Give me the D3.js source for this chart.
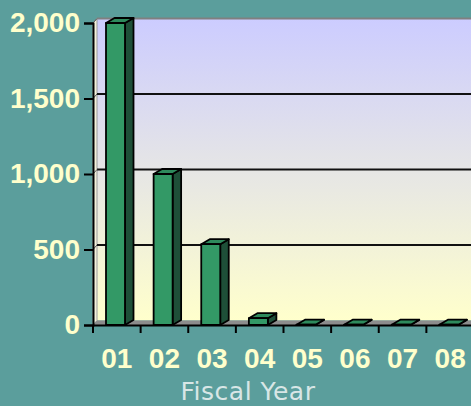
<!DOCTYPE html>
<html>
<head>
<meta charset="utf-8">
<script src="https://cdn.jsdelivr.net/npm/d3@7"></script>
<style>
  body { margin: 0; background: #5b9e9c; }
  svg { display: block; }
</style>
</head>
<body>
<div id="chart"></div>
<script>
// data
var years = ["01", "02", "03", "04", "05", "06", "07", "08"];
var values = [2000, 1000, 535, 45, 2, 2, 2, 2];
var yTicks = [0, 500, 1000, 1500, 2000];

var W = 471, H = 406;
var plotLeft = 93, plotRight = 474, plotBottom = 325, plotTop = 23;
var wx = 4, wy = -4.5;   // wall depth
var bx = 8.5, by = -5;   // bar depth

var svg = d3.select("#chart").append("svg")
    .attr("width", W)
    .attr("height", H);

var x = d3.scaleBand()
    .domain(years)
    .range([plotLeft, plotRight]);

var y = d3.scaleLinear()
    .domain([0, 2000])
    .range([plotBottom, plotTop]);

// back wall gradient
var grad = svg.append("defs").append("linearGradient")
    .attr("id", "wall")
    .attr("x1", 0).attr("y1", 0).attr("x2", 0).attr("y2", 1);
grad.append("stop").attr("offset", "0%").attr("stop-color", "#ccccff");
grad.append("stop").attr("offset", "100%").attr("stop-color", "#ffffcc");

// back wall
svg.append("rect")
    .attr("x", plotLeft + wx)
    .attr("y", y(2000) + wy)
    .attr("width", plotRight - plotLeft - wx)
    .attr("height", y(0) - y(2000))
    .attr("fill", "url(#wall)");

// top edge of back wall
svg.append("line")
    .attr("x1", plotLeft + wx).attr("x2", plotRight)
    .attr("y1", y(2000) + wy).attr("y2", y(2000) + wy)
    .attr("stroke", "#808080").attr("stroke-width", 2);

// left wall
svg.append("path")
    .attr("d", "M" + plotLeft + "," + y(2000) + "L" + (plotLeft + wx) + "," + (y(2000) + wy) +
               "L" + (plotLeft + wx) + "," + (y(0) + wy) + "L" + plotLeft + "," + y(0) + "Z")
    .attr("fill", "#f4f2dc")
    .attr("stroke", "#9a9a9a")
    .attr("stroke-width", 1);

// floor
svg.append("path")
    .attr("d", "M" + plotLeft + "," + y(0) + "L" + (plotLeft + wx) + "," + (y(0) + wy) +
               "L" + plotRight + "," + (y(0) + wy) + "L" + plotRight + "," + y(0) + "Z")
    .attr("fill", "#8c8c8c");

// gridlines on back wall
svg.append("g").selectAll("line")
    .data(yTicks.filter(function(d) { return d > 0 && d < 2000; }))
    .enter().append("line")
    .attr("x1", plotLeft + wx).attr("x2", plotRight)
    .attr("y1", function(d) { return y(d) + wy; })
    .attr("y2", function(d) { return y(d) + wy; })
    .attr("stroke", "#111").attr("stroke-width", 2);

svg.append("g").selectAll("line")
    .data(yTicks.filter(function(d) { return d > 0; }))
    .enter().append("line")
    .attr("x1", plotLeft).attr("x2", plotLeft + wx)
    .attr("y1", function(d) { return y(d); })
    .attr("y2", function(d) { return y(d) + wy; })
    .attr("stroke", "#555").attr("stroke-width", 1);

// bars
var bw = 19, off = 13;
var bars = svg.append("g").selectAll("g")
    .data(years.map(function(d, i) { return {year: d, value: values[i]}; }))
    .enter().append("g")
    .attr("stroke", "#000")
    .attr("stroke-width", 1.8)
    .attr("stroke-linejoin", "round");

bars.append("path") // side
    .attr("d", function(d) {
      var x1 = x(d.year) + off + bw;
      return "M" + x1 + "," + y(0) + "L" + x1 + "," + y(d.value) +
             "L" + (x1 + bx) + "," + (y(d.value) + by) + "L" + (x1 + bx) + "," + (y(0) + by) + "Z";
    })
    .attr("fill", "#1e4f38");

bars.append("path") // top
    .attr("d", function(d) {
      var x0 = x(d.year) + off, yt = y(d.value);
      return "M" + x0 + "," + yt + "L" + (x0 + bx) + "," + (yt + by) +
             "L" + (x0 + bw + bx) + "," + (yt + by) + "L" + (x0 + bw) + "," + yt + "Z";
    })
    .attr("fill", "#2e8a5c");

bars.append("rect") // front
    .attr("x", function(d) { return x(d.year) + off; })
    .attr("y", function(d) { return y(d.value); })
    .attr("width", bw)
    .attr("height", function(d) { return y(0) - y(d.value); })
    .attr("fill", "#339966");

// y axis
var yAxis = svg.append("g")
    .attr("transform", "translate(" + plotLeft + ",0)")
    .call(d3.axisLeft(y).tickValues(yTicks).tickFormat(d3.format(",")).tickSize(9).tickPadding(4));
yAxis.select(".domain").attr("stroke", "#000").attr("stroke-width", 2);
yAxis.selectAll(".tick line").attr("stroke", "#000").attr("stroke-width", 2);
yAxis.selectAll("text")
    .attr("fill", "#ffffcc")
    .style("font-family", "'Liberation Sans', Arial, sans-serif")
    .style("font-weight", "bold")
    .style("font-size", "28px");

// x axis
var xAxis = svg.append("g")
    .attr("transform", "translate(0," + plotBottom + ")")
    .call(d3.axisBottom(x).tickSize(0).tickPadding(23));
xAxis.select(".domain").attr("stroke", "#000").attr("stroke-width", 2);
xAxis.selectAll("text")
    .attr("fill", "#ffffcc")
    .style("font-family", "'Liberation Sans', Arial, sans-serif")
    .style("font-weight", "bold")
    .style("font-size", "28px");

// ticks at category boundaries
svg.append("g").selectAll("line")
    .data(years)
    .enter().append("line")
    .attr("x1", function(d) { return x(d); })
    .attr("x2", function(d) { return x(d); })
    .attr("y1", plotBottom).attr("y2", plotBottom + 8)
    .attr("stroke", "#000").attr("stroke-width", 2);

// axis title
svg.append("text")
    .attr("x", 248)
    .attr("y", 400)
    .attr("text-anchor", "middle")
    .style("font-family", "'DejaVu Sans', Verdana, sans-serif")
    .style("font-size", "25px")
    .style("letter-spacing", "0.5px")
    .attr("fill", "#d8e6e6")
    .text("Fiscal Year");
</script>
</body>
</html>
